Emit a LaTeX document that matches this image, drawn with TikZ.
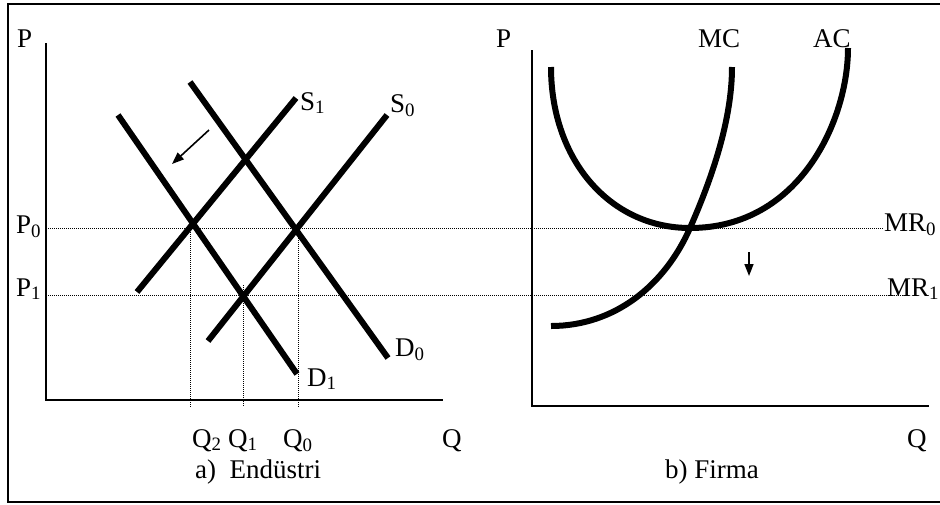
\documentclass[tikz,border=0pt]{standalone}
\usepackage{fontspec}
\setmainfont{Liberation Serif}
\usetikzlibrary{arrows.meta}
\begin{document}
\begin{tikzpicture}[x=1pt, y=-1pt,
  every node/.style={inner sep=0pt, anchor=base west, font=\fontsize{27}{31}\selectfont},
  curve/.style={line width=6pt},
  axis/.style={line width=2pt},
  guide/.style={line width=0.8pt, dash pattern=on 1pt off 1pt},
  shiftarrow/.style={line width=1.6pt, -{Triangle[length=12pt, width=9pt]}}]
  \useasboundingbox (0,0) rectangle (940,504);
  \draw[line width=2pt] (940,4) -- (8,4) -- (8,502) -- (940,502);

  % a) industry
  \coordinate (Atop) at (46,43);
  \coordinate (Aorig) at (46,400);
  \coordinate (Aend) at (443,400);
  \draw[axis] (Atop) -- (Aorig) -- (Aend);
  \node (PA) at (17,47) {P};
  \node (P0) at (16,233) {P\textsubscript{0}};
  \node (P1) at (16,296) {P\textsubscript{1}};
  \node (Q2) at (192,447) {Q\textsubscript{2}};
  \node (Q1) at (228,447) {Q\textsubscript{1}};
  \node (Q0) at (283,447) {Q\textsubscript{0}};
  \node (QA) at (442,447) {Q};
  \node (capA) at (195,478) {a)\ \ Endüstri};

  \coordinate (D1a) at (118,115);
  \coordinate (D1b) at (297,374);
  \coordinate (D0a) at (190,82);
  \coordinate (D0b) at (388,358);
  \coordinate (S1a) at (137,292);
  \coordinate (S1b) at (296,98);
  \coordinate (S0a) at (208,341);
  \coordinate (S0b) at (387,115);
  \draw[curve] (D1a) -- (D1b);
  \draw[curve] (D0a) -- (D0b);
  \draw[curve] (S1a) -- (S1b);
  \draw[curve] (S0a) -- (S0b);
  \node (S1) at (300,110) {S\textsubscript{1}};
  \node (S0) at (390,112) {S\textsubscript{0}};
  \node (D0) at (395,356) {D\textsubscript{0}};
  \node (D1) at (307,386) {D\textsubscript{1}};

  \coordinate (E2) at (190,228);
  \coordinate (E1) at (243,285);
  \coordinate (E0) at (298,228);
  \draw[guide] (E2) -- (E2 |- 0,407);
  \draw[guide] (E1) -- (E1 |- 0,407);
  \draw[guide] (E0) -- (E0 |- 0,407);

  \coordinate (arrA) at (209,130);
  \coordinate (arrB) at (172,164);
  \draw[shiftarrow] (arrA) -- (arrB);

  % b) firm
  \coordinate (Btop) at (532,50);
  \coordinate (Borig) at (532,406);
  \coordinate (Bend) at (929,406);
  \draw[axis] (Btop) -- (Borig) -- (Bend);
  \node (PB) at (496,47) {P};
  \node (MC) at (698,47) {MC};
  \node (AC) at (813,47) {AC};
  \node (MR0) at (884,231) {MR\textsubscript{0}};
  \node (MR1) at (887,296) {MR\textsubscript{1}};
  \node (QB) at (907,447) {Q};
  \node (capB) at (665,478) {b) Firma};

  \coordinate (ACmin) at (690,228);
  \draw[curve] (551,67) .. controls (551,160) and (610,228) .. (ACmin)
    .. controls (800,228) and (848,120) .. (848,48);
  \draw[curve] (551,326) .. controls (615,326) and (665,285) .. (ACmin)
    .. controls (712,178) and (732,120) .. (732,67);

  \coordinate (arrC) at (749,252);
  \coordinate (arrD) at (749,276);
  \draw[shiftarrow] (arrC) -- (arrD);

  % price lines across both panels
  \draw[guide] (48,228) -- (MR0.west |- 0,228);
  \draw[guide] (48,295) -- (905,295);
\end{tikzpicture}
\end{document}
